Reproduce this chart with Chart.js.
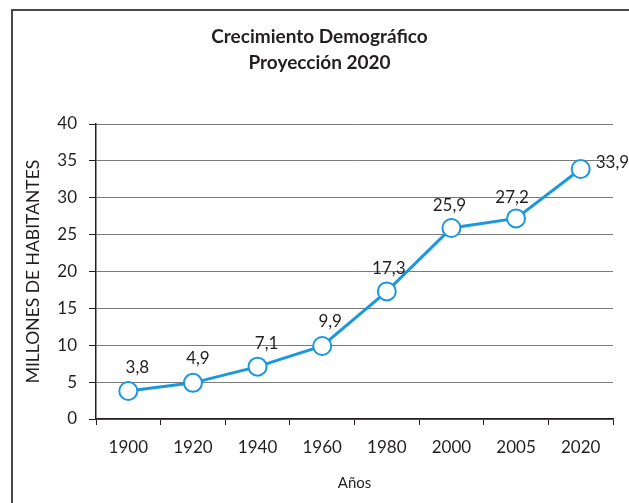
<!DOCTYPE html>
<html>
<head>
<meta charset="utf-8">
<script src="https://cdn.jsdelivr.net/npm/chart.js@4"></script>
<style>
  html, body { margin: 0; padding: 0; background: #fff; }
  #wrap { position: relative; width: 629px; height: 503px; }
  #frame { position: absolute; left: 11px; top: 9px; right: -5px; bottom: -5px;
           border-left: 2.5px solid #4a4646; border-top: 2px solid #4a4646; pointer-events: none; }
</style>
</head>
<body>
<div id="wrap">
  <canvas id="poblacion_lineChart" width="629" height="503"></canvas>
  <div id="frame"></div>
</div>
<script>
// datos
const anios = ['1900', '1920', '1940', '1960', '1980', '2000', '2005', '2020'];
const habitantes = [3.8, 4.9, 7.1, 9.9, 17.3, 25.9, 27.2, 33.9];
const yTicks = [0, 5, 10, 15, 20, 25, 30, 35, 40];

const azul = '#1b98dc';
const fuente = 'Lato, "Open Sans", sans-serif';

// etiquetas con el valor encima de cada punto (coma decimal)
const etiquetas = {
    id: 'etiquetas',
    afterDatasetsDraw(chart, args, opts) {
        const ctx = chart.ctx;
        const meta = chart.getDatasetMeta(0);
        ctx.save();
        ctx.font = '17px ' + fuente;
        ctx.fillStyle = '#231f20';
        ctx.textBaseline = 'middle';
        meta.data.forEach(function (pt, i) {
            const off = opts.offsets[i];
            ctx.textAlign = off[2] || 'center';
            const txt = habitantes[i].toFixed(1).replace('.', ',');
            ctx.fillText(txt, pt.x + off[0], pt.y + off[1]);
        });
        ctx.restore();
    }
};

new Chart(document.getElementById('poblacion_lineChart'), {
    type: 'line',
    data: {
        labels: anios,
        datasets: [{
            label: 'Millones de habitantes',
            data: habitantes,
            borderColor: azul,
            borderWidth: 3,
            pointRadius: 9,
            pointHoverRadius: 9,
            pointBorderWidth: 2,
            pointBackgroundColor: '#ffffff',
            pointBorderColor: azul,
            tension: 0
        }]
    },
    options: {
        responsive: false,
        animation: false,
        layout: { padding: { left: 12, right: 2, top: 0, bottom: 0 } },
        plugins: {
            legend: { display: false },
            tooltip: { enabled: false },
            title: {
                display: true,
                text: ['Crecimiento Demográfico', 'Proyección 2020'],
                color: '#231f20',
                font: { family: fuente, size: 19, weight: 'bold', lineHeight: '26px' },
                padding: { top: 24, bottom: 48 }
            },
            etiquetas: {
                offsets: [[9, -23], [5, -24], [9, -23], [8, -24], [2, -23], [-2, -22], [-4, -21], [15, -6, 'left']]
            }
        },
        scales: {
            x: {
                offset: true,
                grid: { display: true, offset: true, drawOnChartArea: false, drawTicks: true,
                        tickLength: 6, tickColor: '#231f20' },
                border: { display: true, color: '#231f20', width: 1.5 },
                ticks: { color: '#231f20', font: { family: fuente, size: 17 }, padding: 12,
                         maxRotation: 0 },
                title: { display: true, text: 'Años', color: '#231f20',
                         font: { family: fuente, size: 15 }, padding: { top: 4, bottom: 11 } },
                afterFit(scale) { scale.height = 84; }
            },
            y: {
                min: 0,
                max: 40,
                afterBuildTicks(scale) { scale.ticks = yTicks.map(v => ({ value: v })); },
                grid: { color: '#7a7a7a', lineWidth: 1, drawTicks: true, tickLength: 7,
                        tickColor: '#231f20' },
                border: { display: true, color: '#231f20', width: 1.5 },
                ticks: { color: '#231f20', font: { family: fuente, size: 17 }, padding: 12 },
                title: { display: true, text: 'MILLONES DE HABITANTES', color: '#231f20',
                         font: { family: fuente, size: 17.5 }, padding: { top: 11, bottom: 0 } },
                afterFit(scale) { scale.width = 84; }
            },
            // eje vacio a la derecha solo para reservar margen
            yDer: {
                position: 'right',
                display: true,
                min: 0,
                max: 40,
                grid: { display: false, drawTicks: false },
                border: { display: false },
                ticks: { display: false },
                afterFit(scale) { scale.width = 14; }
            }
        }
    },
    plugins: [etiquetas]
});
</script>
</body>
</html>
